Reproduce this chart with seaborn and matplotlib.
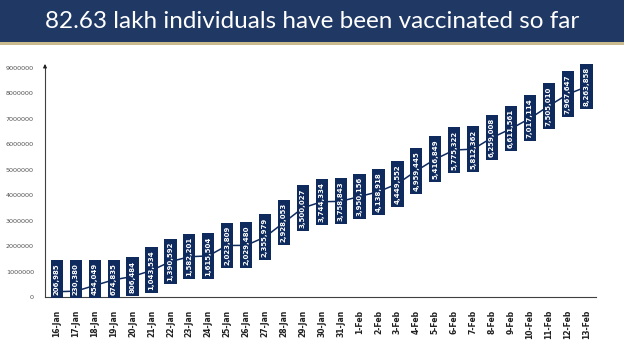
import matplotlib
matplotlib.use("Agg")
import matplotlib.pyplot as plt
import seaborn as sns
import pandas as pd

dates = ["16-Jan", "17-Jan", "18-Jan", "19-Jan", "20-Jan", "21-Jan", "22-Jan", "23-Jan",
         "24-Jan", "25-Jan", "26-Jan", "27-Jan", "28-Jan", "29-Jan", "30-Jan", "31-Jan",
         "1-Feb", "2-Feb", "3-Feb", "4-Feb", "5-Feb", "6-Feb", "7-Feb", "8-Feb",
         "9-Feb", "10-Feb", "11-Feb", "12-Feb", "13-Feb"]
vaccinated = [206985, 230380, 454049, 674835, 806484, 1043534, 1390592, 1582201,
              1615504, 2023809, 2029480, 2355979, 2928053, 3500027, 3744334, 3758843,
              3950156, 4138918, 4449552, 4959445, 5416849, 5775322, 5812362, 6259008,
              6611561, 7017114, 7505010, 7967647, 8263858]
title = "82.63 lakh individuals have been vaccinated so far"

df = pd.DataFrame({"date": dates, "vaccinated": vaccinated})
df["pos"] = range(len(df))

sns.set_style("white")
plt.rcParams["font.family"] = ["DejaVu Sans"]

navy = "#0f2a5c"
fig = plt.figure(figsize=(6.24, 3.51), dpi=100)

# title band
fig.patches.append(plt.Rectangle((0, 1 - 42 / 351), 1, 42 / 351, transform=fig.transFigure,
                                 facecolor="#1f3864", edgecolor="none", zorder=0))
fig.patches.append(plt.Rectangle((0, 1 - 45 / 351), 1, 3 / 351, transform=fig.transFigure,
                                 facecolor="#c9bb8e", edgecolor="none", zorder=0))
fig.text(0.5, 1 - 21 / 351, title, ha="center", va="center", color="white",
         fontsize=17.5, family=["Lato", "DejaVu Sans"])

ax = fig.add_axes([45 / 624, 1 - 297 / 351, 551 / 624, 229 / 351])
sns.lineplot(data=df, x="pos", y="vaccinated", ax=ax, color=navy, linewidth=1.1)

ax.set_ylim(0, 9000000)
ax.set_xlim(-0.63, 28.42)
ax.set_yticks(range(0, 9000001, 1000000))
ax.set_yticklabels([str(v) for v in range(0, 9000001, 1000000)], fontsize=4.6, color="#505050")
ax.set_xticks(df["pos"])
ax.set_xticklabels(dates, rotation=90, fontsize=5.5, fontweight="bold", color="#202020")
ax.set_xticks([p + 0.5 for p in range(-1, len(dates))], minor=True)
ax.tick_params(axis="x", which="major", length=0, pad=9)
ax.tick_params(axis="x", which="minor", length=3, width=0.6, color="#404040", direction="out")
ax.tick_params(axis="y", length=2, width=0.6, color="#404040", pad=6)
ax.set_xlabel("")
ax.set_ylabel("")
for s in ["top", "right"]:
    ax.spines[s].set_visible(False)
for s in ["left", "bottom"]:
    ax.spines[s].set_color("#404040")
    ax.spines[s].set_linewidth(0.8)
ax.annotate("", xy=(0, 1.03), xytext=(0, 0.99), xycoords="axes fraction",
            arrowprops=dict(arrowstyle="-|>", color="#202020", lw=0.8, mutation_scale=5))

# value boxes, kept inside the plot area
half = 700000
for p, v in zip(df["pos"], df["vaccinated"]):
    ax.text(p, max(v, half), f"{v:,}", rotation=90, ha="center", va="center",
            fontsize=5, fontweight="bold", color="white", zorder=5,
            family=["Liberation Sans Narrow", "DejaVu Sans"],
            bbox=dict(boxstyle="square,pad=0.45", facecolor=navy, edgecolor="none"))

fig.savefig("out.png", dpi=100)
